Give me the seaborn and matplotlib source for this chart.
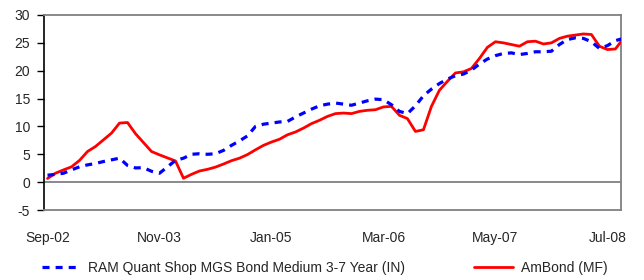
import matplotlib
matplotlib.use("Agg")
import matplotlib.pyplot as plt
import seaborn as sns
import pandas as pd
import numpy as np

# ---- data (monthly, Sep-02 onwards) ----
tick_labels = ["Sep-02", "Nov-03", "Jan-05", "Mar-06", "May-07", "Jul-08"]
series_names = ["RAM Quant Shop MGS Bond Medium 3-7 Year (IN)", "AmBond (MF)"]

ram_index = [1.25, 1.4, 1.6, 2.2, 2.75, 3.1, 3.35, 3.7, 4.0, 4.3,
             3.0, 2.55, 2.6, 1.95, 1.6, 2.75, 3.9, 4.3, 5.0, 5.1,
             5.0, 5.1, 5.7, 6.6, 7.4, 8.3, 10.0, 10.4, 10.6, 10.8,
             10.9, 11.7, 12.4, 13.1, 13.7, 14.0, 14.2, 14.0, 13.8, 14.2,
             14.6, 14.9, 14.8, 13.9, 12.7, 12.3, 13.7, 15.5, 16.7, 17.7,
             18.5, 19.1, 19.4, 20.1, 21.2, 22.1, 22.7, 23.1, 23.2, 22.9,
             23.1, 23.4, 23.4, 23.5, 24.7, 25.6, 25.9, 25.8, 25.2, 24.0,
             24.5, 25.4, 25.8]

ambond = [0.66, 1.6, 2.2, 2.75, 3.9, 5.5, 6.4, 7.6, 8.8, 10.6,
          10.7, 8.7, 7.1, 5.5, 4.9, 4.35, 3.8, 0.7, 1.4, 2.0,
          2.3, 2.7, 3.25, 3.85, 4.3, 4.95, 5.8, 6.6, 7.2, 7.7,
          8.5, 9.0, 9.7, 10.5, 11.1, 11.8, 12.3, 12.4, 12.3, 12.7,
          12.9, 13.0, 13.5, 13.6, 12.0, 11.4, 9.1, 9.4, 13.6, 16.5,
          18.1, 19.6, 19.8, 20.4, 22.2, 24.2, 25.2, 25.0, 24.7, 24.4,
          25.2, 25.3, 24.8, 25.0, 25.8, 26.2, 26.4, 26.6, 26.5, 24.4,
          23.8, 23.9, 25.8]

months = list(range(len(ambond)))
df = pd.DataFrame({
    "month": months * 2,
    "value": ram_index + ambond,
    "series": [series_names[0]] * len(ram_index) + [series_names[1]] * len(ambond),
})

# ---- style ----
sns.set_style("white")
plt.rcParams["font.family"] = ["Liberation Sans", "DejaVu Sans"]
plt.rcParams["font.size"] = 10
plt.rcParams["axes.unicode_minus"] = False

fig = plt.figure(figsize=(6.44, 2.80), dpi=100)
ax = fig.add_axes([44 / 644, 1 - 210 / 280, (621 - 44) / 644, (210 - 15) / 280])

palette = {series_names[0]: "#0000FF", series_names[1]: "#FF0000"}
dashes = {series_names[0]: (2.2, 1.9), series_names[1]: ""}
sns.lineplot(data=df, x="month", y="value", hue="series", style="series",
             palette=palette, dashes=dashes, linewidth=2.0, ax=ax, legend=False)
for ln in ax.get_lines():
    if ln.get_color().lower() in ("#ff0000", "red"):
        ln.set_linewidth(2.0)
        ln.set_zorder(3)
    else:
        ln.set_linewidth(2.3)
        ln.set_zorder(4)

ax.axhline(0, color="#808080", lw=1.3, zorder=1)
ax.set_xlim(-0.44, 71.7)
ax.set_ylim(-5, 30)
ax.set_yticks(np.arange(-5, 31, 5))
ax.set_xticks([0, 14, 28, 42, 56, 70])
ax.set_xticklabels(tick_labels)
ax.set_xlabel("")
ax.set_ylabel("")
ax.tick_params(axis="y", direction="out", length=5, width=1, color="black",
               pad=5, labelsize=10, left=True)
ax.tick_params(axis="x", length=0, pad=15, labelsize=10)

for side in ["top", "bottom", "right"]:
    ax.spines[side].set_color("#808080")
    ax.spines[side].set_linewidth(1.3)
ax.spines["left"].set_color("black")
ax.spines["left"].set_linewidth(1.2)

from matplotlib.lines import Line2D
handles = [Line2D([], [], color="#0000FF", lw=2.3, dashes=(2.2, 1.9)),
           Line2D([], [], color="#FF0000", lw=2.0)]
fig.legend(handles, series_names, loc="center", bbox_to_anchor=(0.504, 1 - 268 / 280),
           ncol=2, frameon=False, handlelength=2.8, handletextpad=0.55,
           columnspacing=5.0, fontsize=10)

fig.savefig("out.png", dpi=100)
